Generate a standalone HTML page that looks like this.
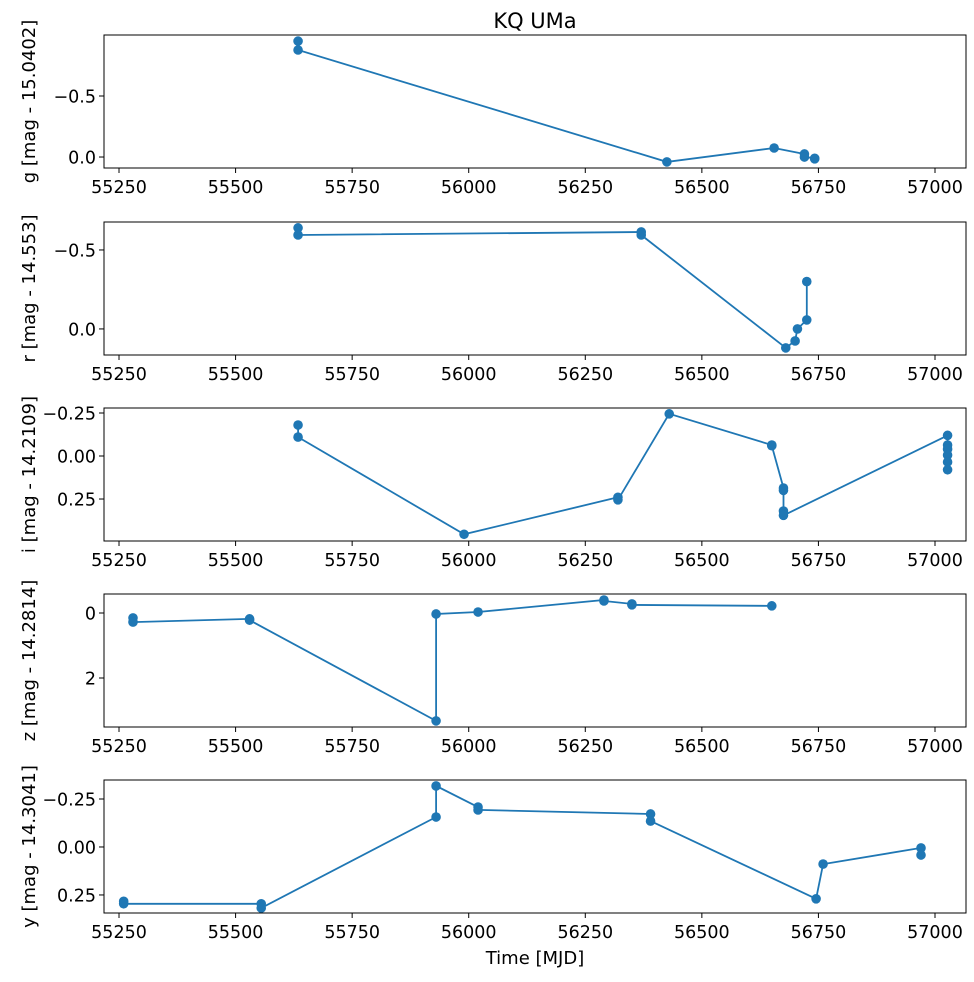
<!DOCTYPE html>
<html><head><meta charset="utf-8"><style>
body{margin:0;background:#fff;}
svg text{font-family:"DejaVu Sans","Liberation Sans",sans-serif;fill:#000;}
</style></head><body>
<svg id="chart" width="974" height="977" xmlns="http://www.w3.org/2000/svg">
<text x="535" y="28" font-size="21" text-anchor="middle">KQ UMa</text>
<text x="535" y="964" font-size="18" text-anchor="middle">Time [MJD]</text>
</svg>
<script>
const xTicks=[55250,55500,55750,56000,56250,56500,56750,57000];
const bandNames=["g","r","i","z","y"];
const bandLabels=["g [mag - 15.0402]","r [mag - 14.553]","i [mag - 14.2109]","z [mag - 14.2814]","y [mag - 14.3041]"];
const gTimes=[55634,55634,56425,56655,56720,56720,56742,56742];
const gMags=[-0.95,-0.877,0.04,-0.074,-0.025,0.0,0.01,0.015];
const rTimes=[55634,55634,56370,56370,56680,56700,56705,56725,56725];
const rMags=[-0.64,-0.595,-0.614,-0.595,0.12,0.076,0.0,-0.057,-0.30];
const iTimes=[55634,55634,55990,56320,56320,56430,56650,56650,56675,56675,56675,56675,57027,57027,57027,57027,57027,57027];
const iMags=[-0.18,-0.11,0.455,0.24,0.255,-0.245,-0.064,-0.06,0.186,0.2,0.32,0.345,-0.12,-0.064,-0.04,-0.006,0.035,0.08];
const zTimes=[55280,55280,55530,55530,55930,55930,56020,56290,56290,56350,56350,56650];
const zMags=[0.15,0.28,0.18,0.22,3.32,0.03,-0.03,-0.4,-0.37,-0.28,-0.25,-0.22];
const yTimes=[55260,55260,55555,55555,55930,55930,56020,56020,56390,56390,56745,56760,56970,56970];
const yMags=[0.283,0.296,0.296,0.318,-0.156,-0.318,-0.208,-0.193,-0.172,-0.135,0.27,0.089,0.005,0.042];
const gTicks=[-0.5,0.0], rTicks=[-0.5,0.0], iTicks=[-0.25,0.0,0.25], zTicks=[0,2], yTicks=[-0.25,0.0,0.25];
const gLim=[-1.0,0.09], rLim=[-0.677,0.165], iLim=[-0.279,0.494], zLim=[-0.585,3.508], yLim=[-0.349,0.344];

const svg=document.getElementById('chart');
const NS='http://www.w3.org/2000/svg';
const L=104,R=966,xMin=55217.8,xMax=57066.5;
const tops=[35,222,408,594,780],H=133;
const C='#1f77b4';
function xs(t){return L+(t-xMin)/(xMax-xMin)*(R-L);}
function mk(tag,attrs){const e=document.createElementNS(NS,tag);for(const k in attrs)e.setAttribute(k,attrs[k]);svg.appendChild(e);return e;}
function fmt(v,dec){return (v<0?'\u2212':'')+Math.abs(v).toFixed(dec);}
const panels=[[gTimes,gMags,gTicks,gLim,1],[rTimes,rMags,rTicks,rLim,1],[iTimes,iMags,iTicks,iLim,2],[zTimes,zMags,zTicks,zLim,0],[yTimes,yMags,yTicks,yLim,2]];
panels.forEach((p,k)=>{
  const [T,M,ticks,lim,dec]=p;const top=tops[k];
  const ys=v=>top+(v-lim[0])/(lim[1]-lim[0])*H;
  const pts=T.map((t,j)=>xs(t).toFixed(1)+','+ys(M[j]).toFixed(1)).join(' ');
  const line=mk('polyline',{points:pts,fill:'none',stroke:C,'stroke-width':1.8});
  
  
  T.forEach((t,j)=>{
    const c=mk('circle',{cx:xs(t),cy:ys(M[j]),r:4.8,fill:C});
    
    
  });
  const box=mk('rect',{x:L,y:top,width:R-L,height:H,fill:'none',stroke:'#000','stroke-width':1});
  
  
  xTicks.forEach(t=>{
    const x=xs(t);
    mk('line',{x1:x,x2:x,y1:top+H,y2:top+H+5,stroke:'#000'});
    const tx=mk('text',{x:x,y:top+H+25,'font-size':17.5,'text-anchor':'middle'});
    tx.textContent=t;
    
    
  });
  ticks.forEach(v=>{
    const y=ys(v);
    mk('line',{x1:L-5,x2:L,y1:y,y2:y,stroke:'#000'});
    const tx=mk('text',{x:L-8,y:y+6.5,'font-size':17.5,'text-anchor':'end'});
    tx.textContent=fmt(v,dec);
    
    
  });
  const yl=mk('text',{x:0,y:0,'font-size':18,'text-anchor':'middle',transform:`translate(35,${top+H/2}) rotate(-90)`});
  yl.textContent=bandLabels[k];
  
  
});
</script>
</body></html>
